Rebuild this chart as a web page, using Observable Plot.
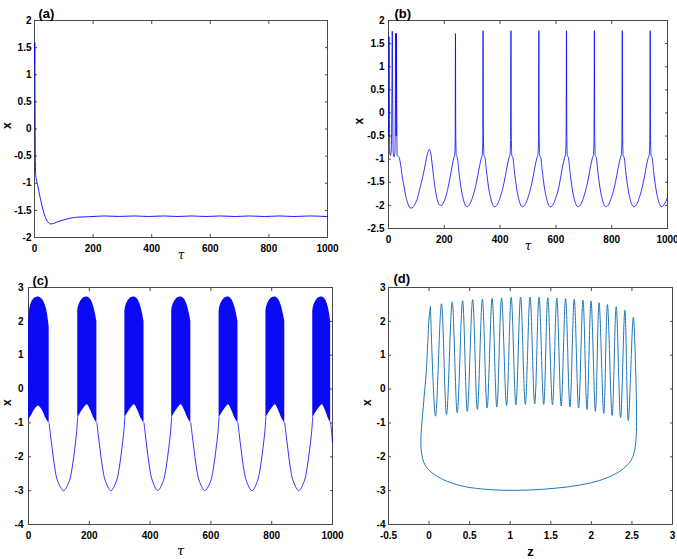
<!DOCTYPE html>
<html><head><meta charset="utf-8">
<script src="https://cdn.jsdelivr.net/npm/d3@7"></script>
<script src="https://cdn.jsdelivr.net/npm/@observablehq/plot@0.6"></script>
<style>
body{margin:0;background:#fff;}
#wrap{position:relative;width:677px;height:559px;overflow:hidden;background:#fff;}
#wrap svg{position:absolute;left:0;top:0;}
</style></head><body><div id="wrap"></div>
<script>
// ---------- panel (a) ----------
const aTau = [0,1,2,3,4.5,6,10,15,20,25,32,40,48,55,62,75,90,110,130,150,180,210,240,290,340,390,440,490,535,585,635,685,735,785,835,885,940,1000];
const aX   = [1.2,1.6,0.4,-0.6,-0.87,-0.92,-1.02,-1.15,-1.28,-1.4,-1.55,-1.66,-1.73,-1.75,-1.745,-1.72,-1.69,-1.66,-1.635,-1.625,-1.618,-1.61,-1.603,-1.612,-1.603,-1.613,-1.603,-1.613,-1.603,-1.613,-1.603,-1.613,-1.603,-1.613,-1.603,-1.613,-1.603,-1.615];

// ---------- panel (b) ----------
const bTau = [0,1,2,3,4.5,7,10,12,13.5,15,17,20,23,24.5,25.5,26.5,27.5,28.5,29.5,31,34,38,44,50,56,62,68,74,80,88,96,104,113,122,130,136,141,146,151,156,162,168,175,182,190,198,206,214,222,229,234,237.5,239,
  240,241,243,247,252,260,270,281,291,301,311,320,327,333,336,338,
  339,340,342,346,351,359,369,380,390,400,410,419,426,432,435.5,437.5,
  439,440,442,446,451,459,469,480,490,500,510,519,526,532,535.5,537.5,
  539,540,542,546,551,559,569,580,590,600,610,618,625,631,634.5,636.5,
  638,639,641,645,650,658,668,679,689,699,709,718,725,731,734.5,736.5,
  738,739,741,745,750,758,768,779,789,799,809,818,825,831,834.5,836.5,
  838,839,841,845,850,858,868,879,889,899,909,918,925,931,934.5,936.5,
  938,939,941,945,950,958,968,979,989,1000];
const bX = [-0.5,0.6,1.65,0.4,-0.88,-0.92,-0.8,0.3,1.77,0.2,-0.88,-0.95,-0.85,0.2,1.73,0.1,-0.5,1.72,0.1,-0.92,-0.93,-0.96,-1.14,-1.4,-1.6,-1.8,-1.94,-2.03,-2.06,-2.04,-1.96,-1.84,-1.62,-1.4,-1.17,-0.98,-0.85,-0.79,-0.86,-1.08,-1.4,-1.67,-1.88,-1.99,-2.0,-1.93,-1.8,-1.6,-1.35,-1.12,-0.97,-0.9,-0.6,
  1.72,-0.4,-0.92,-0.97,-1.25,-1.62,-1.91,-2.03,-1.98,-1.83,-1.62,-1.36,-1.13,-0.97,-0.9,-0.6,
  1.78,-0.4,-0.92,-0.97,-1.25,-1.62,-1.91,-2.03,-1.98,-1.83,-1.62,-1.36,-1.13,-0.97,-0.9,-0.6,
  1.78,-0.4,-0.92,-0.97,-1.25,-1.62,-1.91,-2.03,-1.98,-1.83,-1.62,-1.36,-1.13,-0.97,-0.9,-0.6,
  1.78,-0.4,-0.92,-0.97,-1.25,-1.62,-1.91,-2.03,-1.98,-1.83,-1.62,-1.36,-1.13,-0.97,-0.9,-0.6,
  1.78,-0.4,-0.92,-0.97,-1.25,-1.62,-1.91,-2.03,-1.98,-1.83,-1.62,-1.36,-1.13,-0.97,-0.9,-0.6,
  1.78,-0.4,-0.92,-0.97,-1.25,-1.62,-1.91,-2.03,-1.98,-1.83,-1.62,-1.36,-1.13,-0.97,-0.9,-0.6,
  1.78,-0.4,-0.92,-0.97,-1.25,-1.62,-1.91,-2.03,-1.98,-1.83,-1.62,-1.36,-1.13,-0.97,-0.9,-0.6,
  1.78,-0.4,-0.92,-0.97,-1.25,-1.62,-1.91,-2.03,-1.97,-1.83];

// ---------- panel (c): burst envelopes and slow segments ----------
const cBurstId  = [1,1,1,1,1,1,1,1, 2,2,2,2,2,2,2,2, 3,3,3,3,3,3,3,3, 4,4,4,4,4,4,4,4, 5,5,5,5,5,5,5,5, 6,6,6,6,6,6,6,6, 7,7,7,7,7,7,7,7];
const cBurstTau = [0,3,10,20,33,45,58,68, 162,165,172,182,193,204,215,225, 317,320,327,337,348,359,370,380, 471,474,481,491,502,513,524,534, 627,630,637,647,658,668,679,689, 781,784,791,801,812,822,833,843, 935,938,945,955,966,976,986,994];
const cBurstHi  = [1.9,2.3,2.55,2.68,2.72,2.65,2.4,1.85, 2.3,2.45,2.6,2.7,2.72,2.65,2.42,2.0, 2.3,2.45,2.6,2.7,2.72,2.65,2.42,2.0, 2.3,2.45,2.6,2.7,2.72,2.65,2.42,2.0, 2.3,2.45,2.6,2.7,2.72,2.65,2.42,2.0, 2.3,2.45,2.6,2.7,2.72,2.65,2.42,2.0, 2.3,2.45,2.6,2.7,2.72,2.65,2.42,2.0];
const cBurstLo  = [-0.92,-0.88,-0.78,-0.62,-0.5,-0.62,-0.88,-1.02, -0.82,-0.8,-0.7,-0.57,-0.46,-0.62,-0.86,-1.0, -0.82,-0.8,-0.7,-0.57,-0.46,-0.62,-0.86,-1.0, -0.82,-0.8,-0.7,-0.57,-0.46,-0.62,-0.86,-1.0, -0.82,-0.8,-0.7,-0.57,-0.46,-0.62,-0.86,-1.0, -0.82,-0.8,-0.7,-0.57,-0.46,-0.62,-0.86,-1.0, -0.82,-0.8,-0.7,-0.57,-0.46,-0.62,-0.86,-1.0];
const cGapId  = [1,1,1,1,1,1,1,1,1,1,1, 2,2,2,2,2,2,2,2,2,2,2, 3,3,3,3,3,3,3,3,3,3,3, 4,4,4,4,4,4,4,4,4,4,4, 5,5,5,5,5,5,5,5,5,5,5, 6,6,6,6,6,6,6,6,6,6,6, 7,7,7];
const cGapTau = [68,72,78,86,96,115,134,144,152,158,162, 225,229,235,243,253,271,289,299,307,313,317, 380,384,390,398,408,425,443,453,461,467,471, 534,538,544,552,562,580,599,609,617,623,627, 689,693,699,707,717,735,753,763,771,777,781, 843,847,853,861,871,889,907,917,925,931,935, 994,997,1000];
const cGapX   = [-1.02,-1.32,-1.76,-2.3,-2.72,-3.0,-2.72,-2.3,-1.76,-1.3,-0.82, -1.0,-1.32,-1.76,-2.3,-2.72,-3.0,-2.72,-2.3,-1.76,-1.3,-0.82, -1.0,-1.32,-1.76,-2.3,-2.72,-3.0,-2.72,-2.3,-1.76,-1.3,-0.82, -1.0,-1.32,-1.76,-2.3,-2.72,-3.0,-2.72,-2.3,-1.76,-1.3,-0.82, -1.0,-1.32,-1.76,-2.3,-2.72,-3.0,-2.72,-2.3,-1.76,-1.3,-0.82, -1.0,-1.32,-1.76,-2.3,-2.72,-3.0,-2.72,-2.3,-1.76,-1.3,-0.82, -1.0,-1.25,-1.6];

// ---------- panel (d): phase portrait ----------
const dPeakZ   = [0.017,0.153,0.285,0.413,0.537,0.657,0.777,0.893,1.012,1.128,1.244,1.355,1.463,1.574,1.682,1.789,1.897,1.996,2.095,2.198,2.306,2.413,2.517];
const dPeakX   = [2.44,2.52,2.57,2.61,2.64,2.66,2.68,2.69,2.71,2.72,2.72,2.72,2.7,2.69,2.67,2.65,2.63,2.6,2.55,2.5,2.43,2.33,2.12];
const dTroughZ = [0.079,0.215,0.347,0.471,0.595,0.715,0.835,0.955,1.070,1.186,1.302,1.413,1.521,1.628,1.736,1.843,1.946,2.050,2.153,2.256,2.360,2.455];
const dTroughX = [-0.8,-0.75,-0.7,-0.66,-0.6,-0.56,-0.53,-0.49,-0.47,-0.45,-0.44,-0.45,-0.47,-0.5,-0.53,-0.56,-0.6,-0.66,-0.72,-0.78,-0.85,-0.93];
const dLoopZ   = [2.548,2.557,2.55,2.53,2.49,2.42,2.3,2.1,1.85,1.55,1.25,0.95,0.65,0.4,0.18,0.04,-0.04,-0.08,-0.1,-0.098,-0.085,-0.06,-0.035,-0.015,0.0];
const dLoopX   = [0.4,-0.95,-1.5,-1.85,-2.1,-2.3,-2.5,-2.7,-2.84,-2.93,-2.98,-2.99,-2.95,-2.86,-2.68,-2.48,-2.28,-2.05,-1.7,-1.3,-0.9,-0.2,0.5,1.4,2.1];

// ---------- tick values ----------
const tauTicks = [0,200,400,600,800,1000];
const aYTicks = [-2,-1.5,-1,-0.5,0,0.5,1,1.5,2];
const bYTicks = [-2.5,-2,-1.5,-1,-0.5,0,0.5,1,1.5,2];
const cYTicks = [-4,-3,-2,-1,0,1,2,3];
const dXTicks = [-0.5,0,0.5,1,1.5,2,2.5,3];
const dYTicks = [-4,-3,-2,-1,0,1,2,3];

// ---------- build tables ----------
const aData = aTau.map((t,i)=>({t, x:aX[i]}));
const bData = bTau.map((t,i)=>({t, x:bX[i]}));
const cBurst = cBurstTau.map((t,i)=>({id:cBurstId[i], t, hi:cBurstHi[i], lo:cBurstLo[i]}));
const cGap = cGapTau.map((t,i)=>({id:cGapId[i], t, x:cGapX[i]}));
const dData = [];
dPeakZ.forEach((z,i)=>{ dData.push({z, x:dPeakX[i]}); if (i<dTroughZ.length) dData.push({z:dTroughZ[i], x:dTroughX[i]}); });
dLoopZ.forEach((z,i)=>dData.push({z, x:dLoopX[i]}));
dData.push({z:dPeakZ[0], x:dPeakX[0]});

const W=677, H=559;
const FONT = "'Liberation Sans', Arial, Helvetica, sans-serif";
const AX = "#4a4a4a";
const BLUE = "#0000ff";
const fmt = d => String(d);

function panel(o){
  const [L,T,R,B] = o.box;
  return Plot.plot({
    width:W, height:H,
    marginLeft:L, marginTop:T, marginRight:W-R, marginBottom:H-B,
    style:{background:"transparent", fontFamily:FONT, fontSize:"10px", fontWeight:"bold", overflow:"visible", color:"#000"},
    x:{domain:o.xd},
    y:{domain:o.yd},
    marks:[
      Plot.frame({stroke:AX}),
      Plot.axisX(o.xt,{anchor:"bottom", tickSize:-3, tickPadding:10, tickFormat:fmt, label:null, stroke:AX, fill:"#000"}),
      Plot.axisX(o.xt,{anchor:"top", tickSize:-3, tickFormat:()=>"", label:null, stroke:AX}),
      Plot.axisY(o.yt,{anchor:"left", tickSize:-3, tickPadding:o.yPad, tickFormat:fmt, label:null, stroke:AX, fill:"#000"}),
      Plot.axisY(o.yt,{anchor:"right", tickSize:-3, tickFormat:()=>"", label:null, stroke:AX}),
      ...o.marks,
      Plot.text([o.tag],{text:d=>d, frameAnchor:"top-left", dx:o.tagDx, dy:o.tagDy, textAnchor:"start", fontSize:13, fontWeight:"bold", fill:"#000"}),
      Plot.text(["x"],{text:d=>d, frameAnchor:"left", dx:o.yLabDx, rotate:-90, fontSize:12, fontWeight:"bold", fill:"#000"}),
      Plot.text([o.xLab],{text:d=>d, frameAnchor:"bottom", dy:o.xLabDy, fontSize:o.xLabSize,
        fontStyle:o.xLabItalic ? "italic" : "normal", fontWeight:o.xLabItalic ? "normal" : "bold",
        fontFamily:o.xLabItalic ? "'DejaVu Serif', 'Liberation Serif', serif" : FONT, fill:"#000"})
    ]
  });
}

const wrap = document.getElementById("wrap");

wrap.appendChild(panel({
  box:[34,20,327,237], xd:[0,1000], yd:[-2,2], xt:tauTicks, yt:aYTicks, yPad:6,
  tag:"(a)", tagDx:4, tagDy:-12, yLabDx:-27, xLab:"τ", xLabDy:21, xLabSize:12, xLabItalic:true,
  marks:[Plot.line(aData,{x:"t", y:"x", stroke:BLUE, strokeWidth:0.9, curve:"monotone-x"})]
}));

wrap.appendChild(panel({
  box:[388,20,667,228], xd:[0,1000], yd:[-2.5,2], xt:tauTicks, yt:bYTicks, yPad:7,
  tag:"(b)", tagDx:6, tagDy:-12, yLabDx:-29, xLab:"τ", xLabDy:21, xLabSize:12, xLabItalic:true,
  marks:[Plot.line(bData,{x:"t", y:"x", stroke:BLUE, strokeWidth:0.8, curve:"monotone-x"})]
}));

wrap.appendChild(panel({
  box:[28,287,332,524], xd:[0,1000], yd:[-4,3], xt:tauTicks, yt:cYTicks, yPad:8,
  tag:"(c)", tagDx:4, tagDy:-12, yLabDx:-21, xLab:"τ", xLabDy:30, xLabSize:13, xLabItalic:true,
  marks:[
    Plot.areaY(cBurst,{x:"t", y1:"lo", y2:"hi", z:"id", fill:"#0a0af5", curve:"catmull-rom"}),
    Plot.line(cGap,{x:"t", y:"x", z:"id", stroke:BLUE, strokeWidth:0.8, curve:"catmull-rom"})
  ]
}));

wrap.appendChild(panel({
  box:[388,287,672,524], xd:[-0.5,3], yd:[-4,3], xt:dXTicks, yt:dYTicks, yPad:6,
  tag:"(d)", tagDx:5, tagDy:-14, yLabDx:-21, xLab:"z", xLabDy:31, xLabSize:13, xLabItalic:false,
  marks:[Plot.line(dData,{x:"z", y:"x", stroke:"#1f78b8", strokeWidth:1, curve:"catmull-rom"})]
}));
</script>
</body></html>
